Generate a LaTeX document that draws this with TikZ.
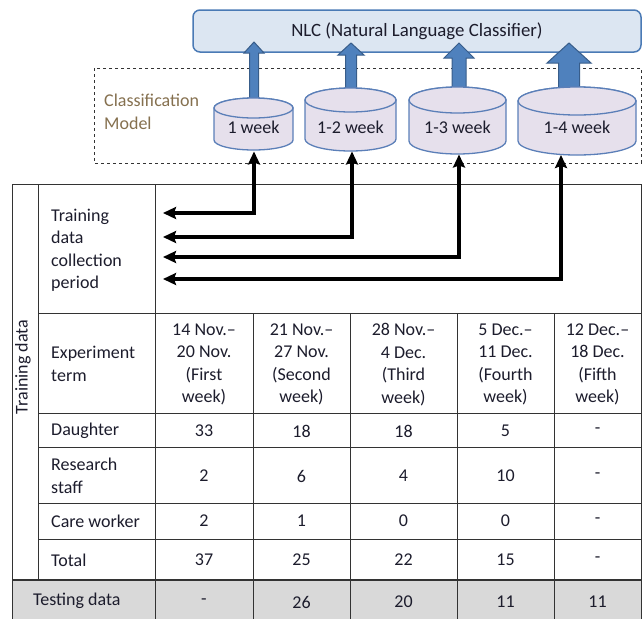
\documentclass[tikz,border=0pt]{standalone}
\usepackage{fontspec}
\setmainfont{Carlito}
\usetikzlibrary{arrows.meta}
\definecolor{tcol}{HTML}{1C1C2C}
\definecolor{brn}{HTML}{85704F}
\definecolor{nlcfill}{HTML}{DCE6F2}
\definecolor{nlcline}{HTML}{4A7AB5}
\definecolor{barfill}{HTML}{4F81BD}
\definecolor{barline}{HTML}{385D8A}
\definecolor{cylfill}{HTML}{E6E0EC}
\definecolor{cylline}{HTML}{5B7FB8}
\definecolor{gridcol}{HTML}{333333}
\definecolor{grayrow}{HTML}{D9D9D9}
\newcommand\drawcyl[5]{%
  \filldraw[cylstyle] ({#1-#2},#3) -- ({#1-#2},#4) arc[start angle=180,end angle=0,x radius=#2,y radius=#5] -- ({#1+#2},#3) arc[start angle=0,end angle=-180,x radius=#2,y radius=#5] -- cycle;
  \draw[cylstyle] (#1,#3) ellipse[x radius=#2,y radius=#5];
}
\newcommand\blockarrow[6]{% cx, tip, base, hw, sw, bottom
  \filldraw[barstyle] (#1,#2) -- ({#1+#4},#3) -- ({#1+#5},#3) -- ({#1+#5},#6) -- ({#1-#5},#6) -- ({#1-#5},#3) -- ({#1-#4},#3) -- cycle;
}
\begin{document}
\begin{tikzpicture}[x=1pt,y=-1pt,
  txt/.style={font=\fontsize{18}{22.5}\selectfont, text=tcol, inner sep=0pt},
  lbl/.style={txt, anchor=west, align=left},
  cell/.style={txt, align=center},
  cylstyle/.style={fill=cylfill, draw=cylline, line width=1.3pt},
  barstyle/.style={fill=barfill, draw=barline, line width=1pt},
  gridline/.style={draw=gridcol, line width=1pt},
  conn/.style={line width=3.5pt, {Stealth[length=13pt,width=12pt,inset=2pt]}-{Stealth[length=13pt,width=12pt,inset=2pt]}}
]
\useasboundingbox (0,0) rectangle (644,619);
% NLC box
\node[txt, font=\fontsize{18.8}{22.5}\selectfont, draw=nlcline, fill=nlcfill, line width=1.5pt, rounded corners=7pt, minimum width=448pt, minimum height=42pt] (nlc) at (417,31) {NLC (Natural Language Classifier)};
% dashed model box
\draw[dashed, line width=0.9pt, draw=black!80] (94,68) rectangle (641,163);
\node[lbl, text=brn] (cm) at (104,112) {Classification\\Model};
% block arrows
\blockarrow{254}{42}{53}{10}{4.5}{108}
\blockarrow{351}{43}{55}{13}{5.5}{100}
\blockarrow{459}{43}{58}{15}{7}{100}
\blockarrow{569}{43}{63}{22}{10.5}{101}
% cylinders
\drawcyl{253.5}{39.5}{108}{140}{10}
\drawcyl{350.5}{45.5}{100}{139}{12}
\drawcyl{457.5}{48.5}{100}{141}{13}
\drawcyl{577}{59}{101}{141}{14}
\node[txt] (c1) at (253.5,127) {1 week};
\node[txt] (c2) at (350.5,127) {1-2 week};
\node[txt] (c3) at (457.5,127) {1-3 week};
\node[txt] (c4) at (577,127) {1-4 week};
% table
\fill[grayrow] (12,580) rectangle (641,619);
\draw[gridline] (12,184) -- (641,184);
\foreach \yy in {313,413,447,503,539} \draw[gridline] (38,\yy) -- (641,\yy);
\draw[gridline, line width=2pt] (12,580) -- (641,580);
\draw[gridline] (12,184) -- (12,619);
\draw[gridline] (38,184) -- (38,580);
\draw[gridline] (155,184) -- (155,619);
\foreach \xx in {253,350,457,554} \draw[gridline] (\xx,313) -- (\xx,619);
\draw[gridline] (641,184) -- (641,619);
% connectors
\coordinate (b1) at (254,151.5);
\coordinate (b2) at (352,151.5);
\coordinate (b3) at (459,154.5);
\coordinate (b4) at (561,155);
\coordinate (t1) at (163,213);
\coordinate (t2) at (163,237);
\coordinate (t3) at (163,257);
\coordinate (t4) at (163,279);
\draw[conn] (b1) |- (t1);
\draw[conn] (b2) |- (t2);
\draw[conn] (b3) |- (t3);
\draw[conn] (b4) |- (t4);
% table text
\node[txt, rotate=90] (trd) at (23,367) {Training data};
\node[lbl] (tdcp) at (51,250) {Training\\data\\collection\\period};
\node[lbl] (et) at (51,364) {Experiment\\term};
\node[cell] (w1) at (204,364.5) {14 Nov.–\\20 Nov.\\(First\\week)};
\node[cell] (w2) at (301.5,364.5) {21 Nov.–\\27 Nov.\\(Second\\week)};
\node[cell] (w3) at (403.5,364.5) {28 Nov.–\\4 Dec.\\(Third\\week)};
\node[cell] (w4) at (505.5,364.5) {5 Dec.–\\11 Dec.\\(Fourth\\week)};
\node[cell] (w5) at (597.5,364.5) {12 Dec.–\\18 Dec.\\(Fifth\\week)};
\node[lbl] (rd) at (51,431) {Daughter};
\node[lbl] (rr) at (51,476) {Research\\staff};
\node[lbl] (rc) at (51,521) {Care worker};
\node[lbl] (rt) at (51,560) {Total};
\node[lbl] (rte) at (33,601) {Testing data};
\foreach \v [count=\i] in {33,18,18,5,-} {
  \pgfmathsetmacro\cx{{204,301.5,403.5,505.5,597.5}[\i-1]}
  \node[cell] (d\i) at (\cx,431) {\v};
}
\foreach \v [count=\i] in {2,6,4,10,-} {
  \pgfmathsetmacro\cx{{204,301.5,403.5,505.5,597.5}[\i-1]}
  \node[cell] (r\i) at (\cx,476) {\v};
}
\foreach \v [count=\i] in {2,1,0,0,-} {
  \pgfmathsetmacro\cx{{204,301.5,403.5,505.5,597.5}[\i-1]}
  \node[cell] (k\i) at (\cx,521) {\v};
}
\foreach \v [count=\i] in {37,25,22,15,-} {
  \pgfmathsetmacro\cx{{204,301.5,403.5,505.5,597.5}[\i-1]}
  \node[cell] (s\i) at (\cx,560) {\v};
}
\foreach \v [count=\i] in {-,26,20,11,11} {
  \pgfmathsetmacro\cx{{204,301.5,403.5,505.5,597.5}[\i-1]}
  \node[cell] (e\i) at (\cx,602) {\v};
}
\end{tikzpicture}
\end{document}
